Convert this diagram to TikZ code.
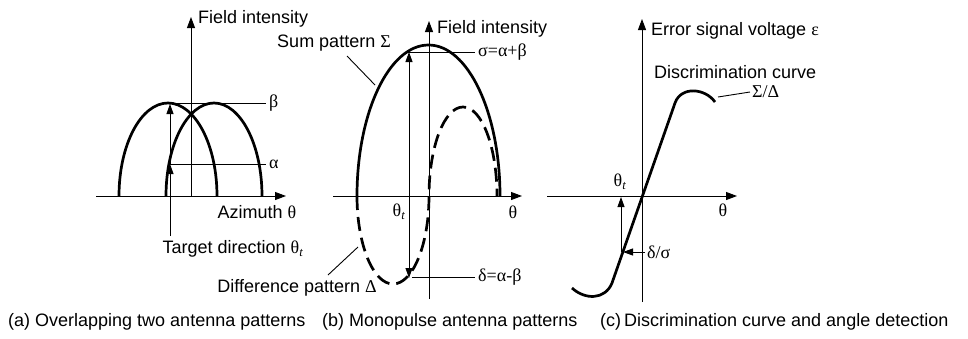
\documentclass[tikz,border=0pt]{standalone}
\usepackage{fontspec}
\setmainfont{Liberation Sans}
\newfontfamily\grk{Liberation Serif}
\usepackage{tikz}
\usetikzlibrary{arrows.meta}

\newcommand{\gr}[1]{{\grk #1}}
\newcommand{\thetat}{\gr{θ}\textsubscript{\grk\itshape t}}

\begin{document}
\begin{tikzpicture}[
    x=1pt, y=-1pt,
    % Line styles
    curve/.style={line width=2.7pt},
    diff/.style={line width=2.7pt, dash pattern=on 14pt off 7pt},
    axis/.style={line width=0.9pt, -{Triangle[length=11pt,width=8pt]}},
    thin/.style={line width=0.9pt},
    pointer/.style={line width=0.9pt, -{Triangle[length=10pt,width=7pt]}},
    both/.style={line width=0.9pt, {Triangle[length=10pt,width=7pt]}-{Triangle[length=10pt,width=7pt]}},
    % Text styles
    lbl/.style={font=\fontsize{18}{21}\selectfont, inner sep=0pt},
    subcap/.style={font=\fontsize{18}{21}\selectfont, inner sep=0pt, anchor=west}
]
\useasboundingbox (0,0) rectangle (968,338);

% Panel (a) - two overlapping patterns
\coordinate (a-o) at (191,196);
\coordinate (a-xl) at (96,196);
\coordinate (a-xr) at (286,196);
\coordinate (a-yt) at (191,17);
\draw[axis] (a-xl) -- (a-xr);
\draw[axis] (a-o) -- (a-yt);
\node[lbl, anchor=west] (a-ylbl) at (198,19) {Field intensity};
\node[lbl] (a-xlbl) at (257,212) {Azimuth \gr{θ}};

\draw[curve] (119,196) arc[start angle=180, end angle=360, x radius=49, y radius=93];
\draw[curve] (166,196) arc[start angle=180, end angle=360, x radius=48, y radius=93];

\node[lbl, anchor=west] (a-beta) at (269,103) {\gr{β}};
\node[lbl, anchor=west] (a-alpha) at (269,164) {\gr{α}};
\coordinate (a-bpk) at (168,103);
\coordinate (a-apt) at (170,164);
\coordinate (a-bpt) at (170,104);
\coordinate (a-tgt) at (170,236);
\draw[thin] (a-bpk) -- ([xshift=-3pt]a-beta.west);
\draw[thin] (a-apt) -- ([xshift=-3pt]a-alpha.west);
\draw[pointer] (a-tgt) -- (a-apt);
\draw[pointer] (a-apt) -- (a-bpt);
\node[lbl] (a-tlbl) at (233,249) {Target direction \thetat};

% Panel (b) - monopulse patterns
\coordinate (b-o) at (429,196);
\coordinate (b-xl) at (333,196);
\coordinate (b-xr) at (522,196);
\coordinate (b-yb) at (429,299);
\coordinate (b-yt) at (429,21);
\draw[axis] (b-xl) -- (b-xr);
\draw[axis] (b-yb) -- (b-yt);
\node[lbl, anchor=west] (b-ylbl) at (437,29) {Field intensity};
\node[lbl] (b-xlbl) at (513,212) {\gr{θ}};
\node[lbl] (b-tlbl) at (399,212) {\thetat};

\draw[diff] (357,196) arc[start angle=180, end angle=0, x radius=36, y radius=88]
    arc[start angle=180, end angle=360, x radius=34, y radius=89];
\draw[curve] (357,196) arc[start angle=180, end angle=360, x radius=71.5, y radius=151];

\node[lbl, anchor=west] (b-sig) at (478,52) {\gr{σ=α+β}};
\node[lbl, anchor=west] (b-del) at (478,277) {\gr{δ=α-β}};
\coordinate (b-spt) at (407,52);
\coordinate (b-dpt) at (412,277);
\coordinate (b-atop) at (409,52);
\coordinate (b-abot) at (409,278);
\draw[thin] (b-spt) -- ([xshift=-3pt]b-sig.west);
\draw[thin] (b-dpt) -- ([xshift=-3pt]b-del.west);
\draw[both] (b-abot) -- (b-atop);

\node[lbl] (b-sum) at (334,43) {Sum pattern \gr{Σ}};
\node[lbl] (b-dif) at (297,288) {Difference pattern \gr{Δ}};
\coordinate (b-sumpt) at (375,85);
\coordinate (b-difpt) at (358,247);
\draw[thin] (347,56) -- (b-sumpt);
\draw[thin] (328,275) -- (b-difpt);

% Panel (c) - discrimination curve
\coordinate (c-o) at (642,196);
\coordinate (c-xl) at (547,196);
\coordinate (c-xr) at (737,196);
\coordinate (c-yb) at (642,302);
\coordinate (c-yt) at (642,19);
\draw[axis] (c-xl) -- (c-xr);
\draw[axis] (c-yb) -- (c-yt);
\node[lbl, anchor=west] (c-ylbl) at (651,31) {Error signal voltage \gr{ε}};
\node[lbl, anchor=west] (c-name) at (654,72) {Discrimination curve};
\node[lbl] (c-xlbl) at (723,210) {\gr{θ}};
\node[lbl] (c-tlbl) at (620,182) {\thetat};

\draw[curve] (572,288) .. controls (585,300) and (605,300) .. (612,283)
    -- (675,103) .. controls (681,86) and (705,88) .. (715,102);

\node[lbl, anchor=west] (c-ratio) at (752,92) {\gr{Σ/Δ}};
\coordinate (c-rpt) at (718,97);
\draw[thin] (c-rpt) -- ([xshift=-2pt]c-ratio.west);

\node[lbl, anchor=west] (c-ds) at (647,252) {\gr{δ/σ}};
\coordinate (c-tbot) at (621,252);
\coordinate (c-ttop) at (621,197);
\coordinate (c-dpt) at (623,252);
\draw[pointer] (c-tbot) -- (c-ttop);
\draw[pointer] ([xshift=-2pt]c-ds.west) -- (c-dpt);

% Captions
\node[subcap] (cap-a) at (8,322) {(a) Overlapping two antenna patterns};
\node[subcap] (cap-b) at (322,322) {(b) Monopulse antenna patterns};
\node[subcap] (cap-c) at (600,322) {(c)\,Discrimination curve and angle detection};

\end{tikzpicture}
\end{document}
